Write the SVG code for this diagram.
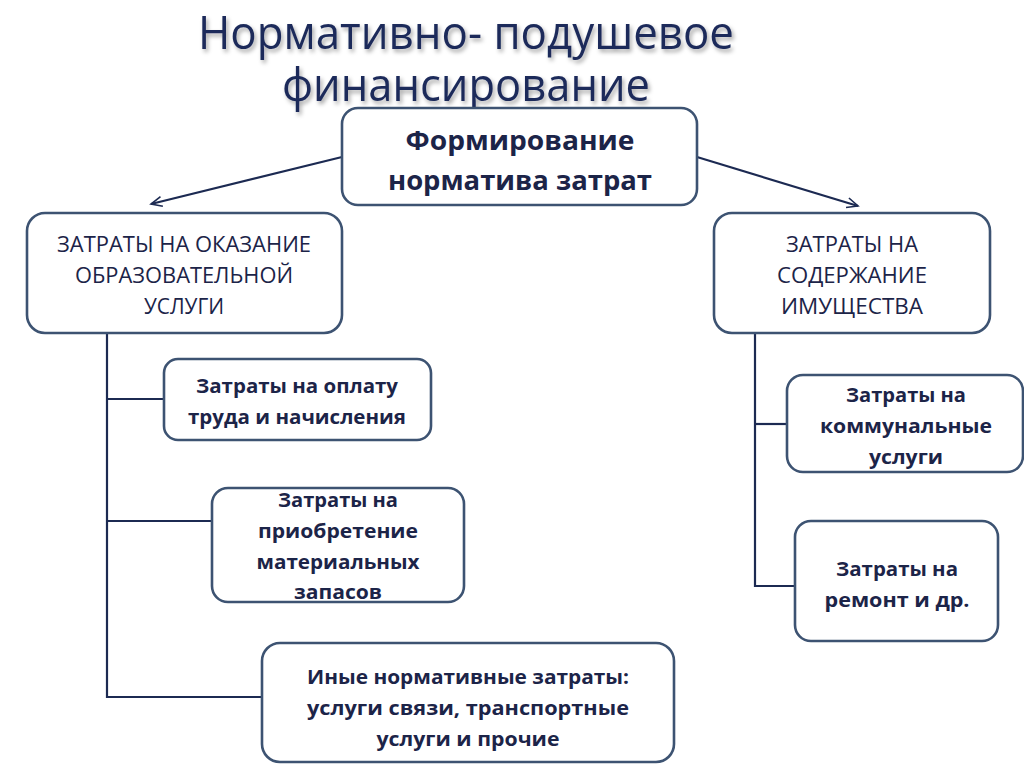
<svg xmlns="http://www.w3.org/2000/svg" width="1024" height="767" viewBox="0 0 1024 767">
<defs>
<style>
.box{fill:#fff;stroke:#3d5372;stroke-width:2.6}
.ln{stroke:#1c2a52;stroke-width:2.2;fill:none}
.t{font-family:"Open Sans","Liberation Sans",sans-serif;fill:#1c2448;text-anchor:middle}
.b{font-weight:bold;font-size:20px}
.u{font-size:21px}
.title{font-family:"Open Sans","Liberation Sans",sans-serif;font-size:46px;fill:#1c2a5a;text-anchor:middle}
</style>
<filter id="sh" x="-10%" y="-30%" width="120%" height="160%">
<feDropShadow dx="2" dy="3" stdDeviation="2" flood-color="#000" flood-opacity="0.35"/>
</filter>
<marker id="ar" markerWidth="14" markerHeight="12" refX="12" refY="6" orient="auto" markerUnits="userSpaceOnUse">
<path d="M1,1 L12,6 L1,11" fill="none" stroke="#1c2a52" stroke-width="1.6"/>
</marker>
</defs>
<rect width="1024" height="767" fill="#fff"/>
<g id="title" filter="url(#sh)">
<text class="title" x="466" y="49" textLength="536" lengthAdjust="spacingAndGlyphs">Нормативно- подушевое</text>
<text class="title" x="466" y="101" textLength="368" lengthAdjust="spacingAndGlyphs">финансирование</text>
</g>
<g id="connectors">
<line class="ln" x1="342" y1="157" x2="151" y2="204" marker-end="url(#ar)"/>
<line class="ln" x1="697" y1="157" x2="858" y2="206" marker-end="url(#ar)"/>
<polyline class="ln" points="107,333 107,697 262,697"/>
<line class="ln" x1="107" y1="399" x2="164" y2="399"/>
<line class="ln" x1="107" y1="521" x2="212" y2="521"/>
<polyline class="ln" points="755,333 755,586 795,586"/>
<line class="ln" x1="755" y1="424" x2="787" y2="424"/>
</g>
<g id="n-top">
<rect class="box" x="342" y="108" width="355" height="97" rx="16"/>
<text class="t" x="520" y="150" font-weight="bold" font-size="26" textLength="229" lengthAdjust="spacingAndGlyphs">Формирование</text>
<text class="t" x="520" y="190" font-weight="bold" font-size="26" textLength="264" lengthAdjust="spacingAndGlyphs">норматива затрат</text>
</g>
<g id="n-left">
<rect class="box" x="27" y="213" width="315" height="120" rx="18"/>
<text class="t u" x="184" y="252" textLength="254" lengthAdjust="spacingAndGlyphs">ЗАТРАТЫ НА ОКАЗАНИЕ</text>
<text class="t u" x="184" y="283" textLength="218" lengthAdjust="spacingAndGlyphs">ОБРАЗОВАТЕЛЬНОЙ</text>
<text class="t u" x="184" y="314" textLength="80" lengthAdjust="spacingAndGlyphs">УСЛУГИ</text>
</g>
<g id="n-right">
<rect class="box" x="714" y="213" width="276" height="120" rx="18"/>
<text class="t u" x="852" y="252" textLength="132" lengthAdjust="spacingAndGlyphs">ЗАТРАТЫ НА</text>
<text class="t u" x="852" y="283" textLength="150" lengthAdjust="spacingAndGlyphs">СОДЕРЖАНИЕ</text>
<text class="t u" x="852" y="314" textLength="142" lengthAdjust="spacingAndGlyphs">ИМУЩЕСТВА</text>
</g>
<g id="n-labor">
<rect class="box" x="164" y="359" width="267" height="81" rx="14"/>
<text class="t b" x="297" y="393" textLength="202" lengthAdjust="spacingAndGlyphs">Затраты на оплату</text>
<text class="t b" x="297" y="424" textLength="218" lengthAdjust="spacingAndGlyphs">труда и начисления</text>
</g>
<g id="n-materials">
<rect class="box" x="212" y="488" width="252" height="114" rx="16"/>
<text class="t b" x="338" y="507" textLength="120" lengthAdjust="spacingAndGlyphs">Затраты на</text>
<text class="t b" x="338" y="538" textLength="160" lengthAdjust="spacingAndGlyphs">приобретение</text>
<text class="t b" x="338" y="569" textLength="163" lengthAdjust="spacingAndGlyphs">материальных</text>
<text class="t b" x="338" y="599" textLength="88" lengthAdjust="spacingAndGlyphs">запасов</text>
</g>
<g id="n-other">
<rect class="box" x="262" y="643" width="412" height="119" rx="18"/>
<text class="t b" x="468" y="684" textLength="322" lengthAdjust="spacingAndGlyphs">Иные нормативные затраты:</text>
<text class="t b" x="468" y="715" textLength="322" lengthAdjust="spacingAndGlyphs">услуги связи, транспортные</text>
<text class="t b" x="468" y="746" textLength="183" lengthAdjust="spacingAndGlyphs">услуги и прочие</text>
</g>
<g id="n-utilities">
<rect class="box" x="787" y="375" width="236" height="97" rx="16"/>
<text class="t b" x="906" y="402" textLength="120" lengthAdjust="spacingAndGlyphs">Затраты на</text>
<text class="t b" x="906" y="433" textLength="172" lengthAdjust="spacingAndGlyphs">коммунальные</text>
<text class="t b" x="906" y="464" textLength="74" lengthAdjust="spacingAndGlyphs">услуги</text>
</g>
<g id="n-repair">
<rect class="box" x="795" y="521" width="203" height="120" rx="16"/>
<text class="t b" x="897" y="576" textLength="122" lengthAdjust="spacingAndGlyphs">Затраты на</text>
<text class="t b" x="897" y="607" textLength="145" lengthAdjust="spacingAndGlyphs">ремонт и др.</text>
</g>
</svg>
